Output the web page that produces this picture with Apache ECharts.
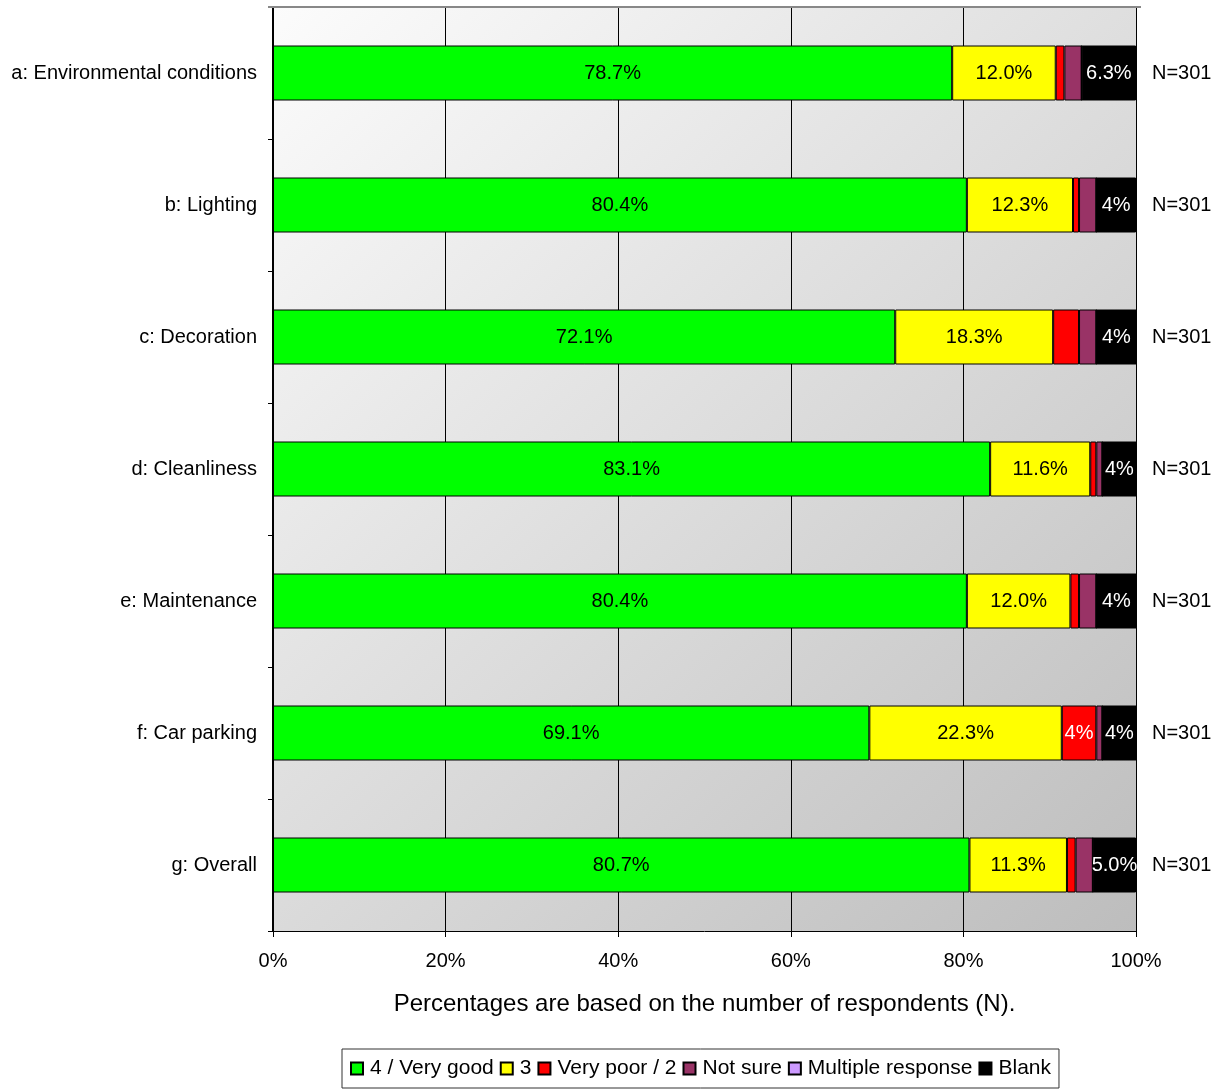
<!DOCTYPE html>
<html>
<head>
<meta charset="utf-8">
<script src="https://cdn.jsdelivr.net/npm/echarts@6/dist/echarts.min.js"></script>
<style>html,body{margin:0;padding:0;background:#fff;}#c{width:1222px;height:1090px;}</style>
</head>
<body>
<div id="c"></div>
<script>
const categories = ['a: Environmental conditions','b: Lighting','c: Decoration','d: Cleanliness','e: Maintenance','f: Car parking','g: Overall'];
const nLabels = ['N=301','N=301','N=301','N=301','N=301','N=301','N=301'];
const seriesNames = ['4 / Very good','3','Very poor / 2','Not sure','Multiple response','Blank'];
const veryGood = [78.7, 80.4, 72.1, 83.1, 80.4, 69.1, 80.7];
const three = [12.0, 12.3, 18.3, 11.6, 12.0, 22.3, 11.3];
const veryPoor = [1.0, 0.7, 3.0, 0.7, 1.0, 4.0, 1.0];
const notSure = [2.0, 2.0, 2.0, 0.7, 2.0, 0.7, 2.0];
const multiple = [0, 0, 0, 0, 0, 0, 0];
const blank = [6.3, 4.6, 4.7, 4.0, 4.7, 4.0, 5.0];
const xTicks = ['0%','20%','40%','60%','80%','100%'];

const colors = ['#00ff00','#ffff00','#ff0000','#993366','#cc99ff','#000000'];
const labelColors = ['#000','#000','#fff','#fff','#000','#fff'];
const dataSets = [veryGood, three, veryPoor, notSure, multiple, blank];

function fmt(v){
  if (v >= 5) return v.toFixed(1) + '%';
  if (v >= 3.5) return Math.floor(v) + '%';
  return '';
}

const series = dataSets.map((d, i) => ({
  name: seriesNames[i],
  type: 'bar',
  stack: 'total',
  barWidth: 55,
  data: d,
  itemStyle: { color: colors[i], borderColor: '#000', borderWidth: 1 },
  label: {
    show: true,
    position: 'inside',
    color: labelColors[i],
    fontFamily: 'Liberation Sans',
    fontSize: 20,
    formatter: p => fmt(p.value)
  }
}));

const chart = echarts.init(document.getElementById('c'), null, {renderer: 'canvas'});
chart.setOption({
  animation: false,
  color: colors,
  grid: {
    left: 273, right: 86, top: 7, bottom: 159,
    show: true,
    borderWidth: 0,
    backgroundColor: {
      type: 'linear', x: 0, y: 0, x2: 1, y2: 1,
      colorStops: [{offset: 0, color: '#fcfcfc'}, {offset: 1, color: '#bdbdbd'}]
    }
  },
  legend: {
    bottom: 2,
    left: 342,
    itemWidth: 12,
    itemHeight: 12,
    itemGap: 6,
    padding: [9, 8, 9, 8],
    borderColor: '#333',
    borderWidth: 1,
    icon: 'rect',
    textStyle: { fontFamily: 'Liberation Sans', fontSize: 21, color: '#000', padding: [0, 0, 0, 2] },
    data: seriesNames
  },
  xAxis: {
    type: 'value',
    min: 0, max: 100, interval: 20,
    name: 'Percentages are based on the number of respondents (N).',
    nameLocation: 'middle',
    nameGap: 61,
    nameTextStyle: { fontFamily: 'Liberation Sans', fontSize: 24, color: '#000' },
    axisLine: { show: true, lineStyle: { color: '#000', width: 1 } },
    axisTick: { show: true, length: 6, lineStyle: { color: '#000' } },
    axisLabel: { fontFamily: 'Liberation Sans', fontSize: 20, color: '#000', margin: 20,
      formatter: v => xTicks[Math.round(v / 20)] },
    splitLine: { show: true, lineStyle: { color: '#000', width: 1 } }
  },
  yAxis: [{
    type: 'category',
    inverse: true,
    data: categories,
    axisLine: { show: true, lineStyle: { color: '#000', width: 2 } },
    axisTick: { show: true, length: 5, inside: false, lineStyle: { color: '#000' } },
    axisLabel: { fontFamily: 'Liberation Sans', fontSize: 20, color: '#000', margin: 16 },
    splitLine: { show: false }
  }, {
    type: 'category',
    inverse: true,
    position: 'right',
    data: nLabels,
    axisLine: { show: false },
    axisTick: { show: false },
    axisLabel: { fontFamily: 'Liberation Sans', fontSize: 20, color: '#000', margin: 16 }
  }],
  graphic: [{
    type: 'line',
    shape: { x1: 268, y1: 7, x2: 1141, y2: 7 },
    style: { stroke: '#888', lineWidth: 2 },
    z: 10
  }],
  series: series
});
</script>
</body>
</html>
